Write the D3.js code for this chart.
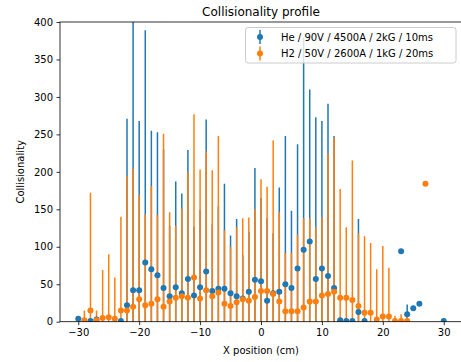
<!DOCTYPE html>
<html>
<head>
<meta charset="utf-8">
<script src="https://cdn.jsdelivr.net/npm/d3@7"></script>
<style>
body { margin: 0; background: #fff; }
text { font-family: "DejaVu Sans", sans-serif; }
</style>
</head>
<body>
<script>
// x positions (cm)
var xPos = [-30,-29,-28,-27,-26,-25,-24,-23,-22,-21,-20,-19,-18,-17,-16,-15,-14,-13,-12,-11,-10,-9,-8,-7,-6,-5,-4,-3,-2,-1,
	0,1,2,3,4,5,6,7,8,9,10,11,12,13,14,15,16,17,18,19,20,21,22,23,24,25,26,27,28,29,30];

// He / 90V / 4500A / 2kG / 10ms
var heVal = [4,null,1,3,null,null,null,1,22,42,42,79,70,62,45,34,46,38,57,35,46,67,41,44,44,38,34,31,40,56,
	54,28,38,40,50,45,71,96,107,57,71,61,45,2,1,1,13,1,null,null,null,null,null,94,10,18,24,null,null,null,1];
var heErr = [1,null,1,1,null,null,null,1,249,400,226,310,185,191,185,94,141,133,172,92,103,203,89,110,140,77,103,58,80,149,
	111,110,80,139,198,103,166,283,203,216,197,230,203,1,1,1,124,1,null,null,null,null,null,0,13,2,2,null,null,null,1];

// H2 / 50V / 2600A / 1kG / 20ms
var h2Val = [null,2,15,2,5,6,4,15,15,20,30,22,24,30,20,27,32,34,32,59,31,42,34,39,24,21,26,30,28,33,
	41,41,37,27,14,14,14,19,27,27,35,37,40,32,32,29,21,12,12,3,7,7,1,1,1,null,null,184,null,null,null];
var h2Err = [null,13,157,13,64,84,55,125,179,184,139,121,157,112,231,119,96,117,167,218,172,185,168,209,98,79,100,108,111,117,
	149,139,205,119,78,78,102,119,111,99,104,187,206,145,94,186,97,102,93,67,94,65,7,9,7,null,null,0,null,null,null];

var seriesNames = ["He / 90V / 4500A / 2kG / 10ms", "H2 / 50V / 2600A / 1kG / 20ms"];
var seriesColors = ["#1f77b4", "#ff7f0e"];
var xTicks = [-30,-20,-10,0,10,20,30];
var yTicks = [0,50,100,150,200,250,300,350,400];

var W = 461, H = 362;
var margin = {top: 22, right: -1, bottom: 40.3, left: 60};

var svg = d3.select("body").append("svg")
	.attr("width", W)
	.attr("height", H);

var x = d3.scaleLinear().domain([-33, 33]).range([margin.left, W - margin.right]);
var y = d3.scaleLinear().domain([0, 400]).range([H - margin.bottom, margin.top]);

svg.append("defs").append("clipPath")
	.attr("id", "plotclip")
	.append("rect")
	.attr("x", margin.left)
	.attr("y", margin.top)
	.attr("width", W - margin.right - margin.left)
	.attr("height", H - margin.bottom - margin.top);

function makeSeries(vals, errs) {
	var out = [];
	for (var i = 0; i < xPos.length; i++) {
		if (vals[i] == null) continue;
		out.push({x: xPos[i], v: vals[i], e: errs[i]});
	}
	return out;
}

var series = [makeSeries(heVal, heErr), makeSeries(h2Val, h2Err)];

var plot = svg.append("g").attr("clip-path", "url(#plotclip)");

// error bar lines first (both series), then markers on top
series.forEach(function(s, k) {
	plot.append("g")
		.selectAll("line")
		.data(s.filter(function(d) { return d.e > 0; }))
		.enter().append("line")
		.attr("x1", function(d) { return x(d.x); })
		.attr("x2", function(d) { return x(d.x); })
		.attr("y1", function(d) { return y(d.v - d.e); })
		.attr("y2", function(d) { return y(d.v + d.e); })
		.attr("stroke", seriesColors[k])
		.attr("stroke-width", 1.5);
});

series.forEach(function(s, k) {
	plot.append("g")
		.selectAll("circle")
		.data(s)
		.enter().append("circle")
		.attr("cx", function(d) { return x(d.x); })
		.attr("cy", function(d) { return y(d.v); })
		.attr("r", 3)
		.attr("fill", seriesColors[k]);
});

// axes
var xAxis = svg.append("g")
	.attr("transform", "translate(0," + y(0) + ")")
	.call(d3.axisBottom(x).tickValues(xTicks).tickSize(3.5).tickPadding(3.5)
		.tickFormat(function(d) { return d < 0 ? "\u2212" + Math.abs(d) : d; }));
var yAxis = svg.append("g")
	.attr("transform", "translate(" + margin.left + ",0)")
	.call(d3.axisLeft(y).tickValues(yTicks).tickSize(3.5).tickPadding(3.5));

[xAxis, yAxis].forEach(function(a) {
	a.select(".domain").remove();
	a.selectAll(".tick line").attr("stroke", "#000").attr("stroke-width", 0.8);
	a.selectAll(".tick text").attr("fill", "#000").style("font-size", "10px")
		.style("font-family", "DejaVu Sans, sans-serif");
});

// spines
svg.append("rect")
	.attr("x", margin.left)
	.attr("y", margin.top)
	.attr("width", W - margin.right - margin.left)
	.attr("height", H - margin.bottom - margin.top)
	.attr("fill", "none")
	.attr("stroke", "#000")
	.attr("stroke-width", 0.8);

// title and labels
svg.append("text")
	.attr("x", (margin.left + W - margin.right) / 2)
	.attr("y", 16)
	.attr("text-anchor", "middle")
	.style("font-size", "12px")
	.text("Collisionality profile");

svg.append("text")
	.attr("x", (margin.left + W - margin.right) / 2)
	.attr("y", 354)
	.attr("text-anchor", "middle")
	.style("font-size", "10px")
	.text("X position (cm)");

svg.append("text")
	.attr("transform", "translate(24," + ((margin.top + H - margin.bottom) / 2) + ") rotate(-90)")
	.attr("text-anchor", "middle")
	.style("font-size", "10px")
	.text("Collisionality");

// legend
var legend = svg.append("g");
legend.append("rect")
	.attr("x", 245.5)
	.attr("y", 27.5)
	.attr("width", 210.5)
	.attr("height", 35.5)
	.attr("rx", 2.5)
	.attr("fill", "#fff")
	.attr("fill-opacity", 0.8)
	.attr("stroke", "#cccccc")
	.attr("stroke-width", 1);

seriesNames.forEach(function(name, k) {
	var cy = 37 + k * 16.5;
	legend.append("line")
		.attr("x1", 260).attr("x2", 260)
		.attr("y1", cy - 7).attr("y2", cy + 7)
		.attr("stroke", seriesColors[k])
		.attr("stroke-width", 1.5);
	legend.append("circle")
		.attr("cx", 260).attr("cy", cy)
		.attr("r", 3)
		.attr("fill", seriesColors[k]);
	legend.append("text")
		.attr("x", 281)
		.attr("y", cy + 3.6)
		.style("font-size", "10px")
		.text(name);
});
</script>
</body>
</html>
